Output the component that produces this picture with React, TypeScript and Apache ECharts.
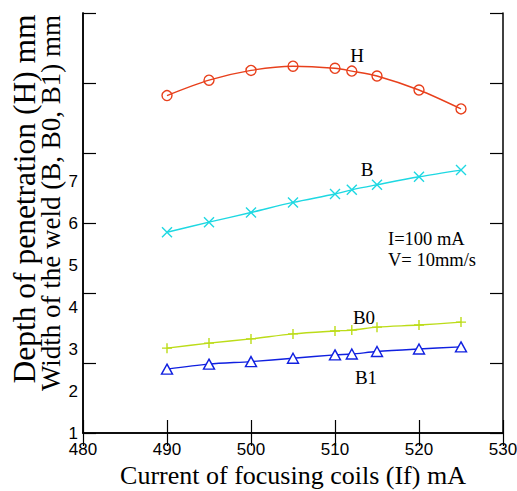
import React, { useEffect, useRef } from "react";
import * as echarts from "echarts";

const currents = [490, 495, 500, 505, 510, 512, 515, 520, 525];
const depthH = [4.82, 5.04, 5.18, 5.24, 5.21, 5.17, 5.1, 4.9, 4.63];
const widthB = [5.78, 6.02, 6.25, 6.49, 6.69, 6.79, 6.91, 7.1, 7.26];
const widthB0 = [3.02, 3.14, 3.24, 3.36, 3.43, 3.45, 3.52, 3.57, 3.64];
const widthB1 = [2.52, 2.64, 2.7, 2.78, 2.86, 2.88, 2.94, 3.0, 3.05];
const widthLabels = [1, 2, 3, 4, 5, 6, 7];

const SERIF = "'Liberation Serif', 'Times New Roman', serif";
const SANS = "'Liberation Sans', Arial, sans-serif";

const pts = (ys: number[]) => currents.map((x, i) => [x, ys[i]]);

export default function App() {
  const ref = useRef<HTMLDivElement>(null);
  useEffect(() => {
    if (!ref.current) return;
    const chart = echarts.init(ref.current, undefined, { renderer: "svg" });
    const axisLine = { show: true, lineStyle: { color: "#000", width: 1.5 } };
    const tick = { show: true, inside: true, length: 13, lineStyle: { color: "#000", width: 1.2 } };
    const cH = "#E8401C";
    const cB = "#1ED8E2";
    const cB0 = "#BCDC18";
    const cB1 = "#1020E0";
    chart.setOption({
      animation: false,
      backgroundColor: "#fff",
      grid: { left: 83, right: 14, top: 13, bottom: 58, containLabel: false, outerBoundsMode: "none" },
      xAxis: [
        {
          type: "value",
          position: "bottom",
          min: 480,
          max: 530,
          interval: 10,
          axisLine,
          axisTick: tick,
          splitLine: { show: false },
          axisLabel: { color: "#000", fontSize: 17, fontFamily: SANS, margin: 8 },
          name: "Current of focusing coils (If) mA",
          nameLocation: "middle",
          nameGap: 24,
          nameTextStyle: { color: "#000", fontSize: 26, fontFamily: SERIF },
        },
        {
          type: "value",
          position: "top",
          min: 480,
          max: 530,
          interval: 10,
          axisLine,
          axisTick: tick,
          splitLine: { show: false },
          axisLabel: { show: false },
        },
      ],
      yAxis: [
        {
          type: "value",
          position: "left",
          offset: 0,
          min: 1,
          max: 11,
          interval: 1,
          axisLine,
          axisTick: { show: false },
          splitLine: { show: false },
          axisLabel: {
            color: "#000",
            fontSize: 17,
            fontFamily: SANS,
            margin: 5,
            formatter: (v: number) => (widthLabels.includes(v) ? String(v) : ""),
          },
        },
        {
          type: "value",
          position: "left",
          offset: 0,
          min: 0,
          max: 6,
          interval: 1,
          axisLine,
          axisTick: tick,
          splitLine: { show: false },
          axisLabel: { show: false },
        },
        {
          type: "value",
          position: "right",
          offset: 0,
          min: 0,
          max: 6,
          interval: 1,
          axisLine,
          axisTick: tick,
          splitLine: { show: false },
          axisLabel: { show: false },
        },
      ],
      series: [
        {
          name: "H",
          type: "line",
          yAxisIndex: 1,
          data: pts(depthH),
          smooth: 0.3,
          symbol: "circle",
          symbolSize: 10,
          lineStyle: { color: cH, width: 1.4 },
          itemStyle: { color: "rgba(0,0,0,0)", borderColor: cH, borderWidth: 1.4 },
        },
        {
          name: "B",
          type: "line",
          yAxisIndex: 0,
          data: pts(widthB),
          smooth: 0.3,
          symbol: "path://M0,0L10,10M10,0L0,10",
          symbolSize: 10,
          lineStyle: { color: cB, width: 1.4 },
          itemStyle: { color: cB, borderColor: cB, borderWidth: 1.4 },
        },
        {
          name: "B0",
          type: "line",
          yAxisIndex: 0,
          data: pts(widthB0),
          smooth: 0.3,
          symbol: "path://M5,0L5,10M0,5L10,5",
          symbolSize: 10,
          lineStyle: { color: cB0, width: 1.4 },
          itemStyle: { color: cB0, borderColor: cB0, borderWidth: 1.4 },
        },
        {
          name: "B1",
          type: "line",
          yAxisIndex: 0,
          data: pts(widthB1),
          smooth: 0.3,
          symbol: "triangle",
          symbolSize: [11, 10],
          lineStyle: { color: cB1, width: 1.4 },
          itemStyle: { color: "#fff", borderColor: cB1, borderWidth: 1.4 },
        },
      ],
      graphic: [
        {
          type: "text",
          x: 24,
          y: 199,
          rotation: Math.PI / 2,
          style: {
            text: "Depth of penetration (H) mm",
            fill: "#000",
            font: `31.5px ${SERIF}`,
            textAlign: "center",
            textVerticalAlign: "middle",
          },
        },
        {
          type: "text",
          x: 51,
          y: 203,
          rotation: Math.PI / 2,
          style: {
            text: "Width of the weld (B, B0, B1) mm",
            fill: "#000",
            font: `27px ${SERIF}`,
            textAlign: "center",
            textVerticalAlign: "middle",
          },
        },
        { type: "text", x: 357, y: 55, style: { text: "H", fill: "#000", font: `19px ${SERIF}`, textAlign: "center", textVerticalAlign: "middle" } },
        { type: "text", x: 367, y: 169, style: { text: "B", fill: "#000", font: `19px ${SERIF}`, textAlign: "center", textVerticalAlign: "middle" } },
        { type: "text", x: 364, y: 317, style: { text: "B0", fill: "#000", font: `19px ${SERIF}`, textAlign: "center", textVerticalAlign: "middle" } },
        { type: "text", x: 366, y: 377, style: { text: "B1", fill: "#000", font: `19px ${SERIF}`, textAlign: "center", textVerticalAlign: "middle" } },
        { type: "text", x: 388, y: 239, style: { text: "I=100 mA", fill: "#000", font: `18.5px ${SERIF}`, textAlign: "left", textVerticalAlign: "middle" } },
        { type: "text", x: 388, y: 260, style: { text: "V= 10mm/s", fill: "#000", font: `18.5px ${SERIF}`, textAlign: "left", textVerticalAlign: "middle" } },
      ],
    });
    return () => chart.dispose();
  }, []);
  return <div ref={ref} style={{ position: "fixed", left: 0, top: 0, width: 517, height: 491 }} />;
}
